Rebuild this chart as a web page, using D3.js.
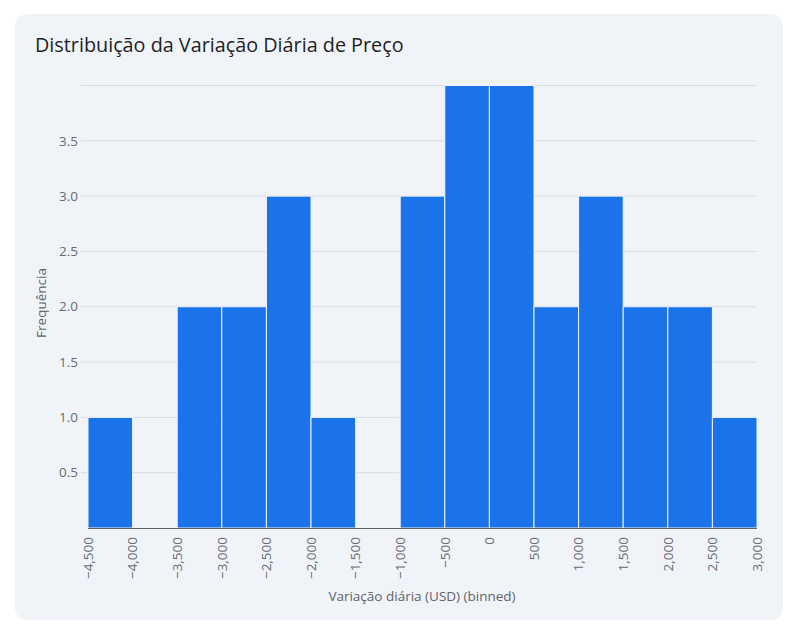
<!DOCTYPE html>
<html><head><meta charset="utf-8">
<script src="https://cdn.jsdelivr.net/npm/d3@7"></script>
<style>
html,body{margin:0;padding:0;background:#fff;}
svg{display:block;font-family:"Open Sans","Noto Sans",sans-serif;}
</style></head>
<body><svg id="c" width="795" height="626"></svg>
<script>
const binStarts = [-4500,-4000,-3500,-3000,-2500,-2000,-1500,-1000,-500,0,500,1000,1500,2000,2500];
const binWidth = 500;
const counts = [1,0,2,2,3,1,0,3,4,4,2,3,2,2,1];
const xTicks = [-4500,-4000,-3500,-3000,-2500,-2000,-1500,-1000,-500,0,500,1000,1500,2000,2500,3000];
const yGrid = [0.5,1,1.5,2,2.5,3,3.5,4];
const yLabels = [0.5,1,1.5,2,2.5,3,3.5];
const title = "Distribuição da Variação Diária de Preço";
const xTitle = "Variação diária (USD) (binned)";
const yTitle = "Frequência";

const svg = d3.select("#c");
svg.append("rect").attr("x",15).attr("y",14).attr("width",768).attr("height",606).attr("rx",12).attr("fill","#f0f4f9");
svg.append("text").attr("x",35).attr("y",52).attr("font-size",19.8).attr("fill","#1f1f1f").text(title);

const x = d3.scaleLinear().domain([-4500,3000]).range([88,757]);
const y = d3.scaleLinear().domain([0,4]).range([528,85.5]);

const g = svg.append("g");
g.selectAll("line.grid").data(yGrid).join("line").attr("class","grid")
 .attr("x1",81).attr("x2",757).attr("y1",d=>y(d)).attr("y2",d=>y(d))
 .attr("stroke","#dadce0").attr("stroke-width",1);
g.selectAll("text.yl").data(yLabels).join("text").attr("class","yl")
 .attr("x",78).attr("y",d=>y(d)).attr("dy","0.35em").attr("text-anchor","end")
 .attr("font-size",13.5).attr("fill","#686c72").text(d=>d.toFixed(1));

g.selectAll("rect.bar").data(binStarts.map((s,i)=>({s,c:counts[i]})).filter(d=>d.c>0)).join("rect").attr("class","bar")
 .attr("x",d=>x(d.s)).attr("width",d=>x(d.s+binWidth)-x(d.s))
 .attr("y",d=>y(d.c)).attr("height",d=>y(0)-y(d.c))
 .attr("fill","#1a73e8").attr("stroke","#f0f4f9").attr("stroke-width",1);

g.append("line").attr("x1",x(-4500)).attr("x2",x(3000)).attr("y1",y(0)+0.5).attr("y2",y(0)+0.5).attr("stroke","#5f6368").attr("stroke-width",1);

const fmt = d3.format(",");
g.selectAll("text.xl").data(xTicks).join("text").attr("class","xl")
 .attr("transform",d=>`translate(${x(d)},537) rotate(-90)`)
 .attr("dy","0.35em").attr("text-anchor","end")
 .attr("font-size",13.5).attr("fill","#686c72").text(d=>fmt(d).replace("-","\u2212"));

svg.append("text").attr("x",422).attr("y",601).attr("text-anchor","middle").attr("font-size",13.5).attr("fill","#5f6368").text(xTitle);
svg.append("text").attr("transform","translate(46,303) rotate(-90)").attr("text-anchor","middle").attr("font-size",13.5).attr("fill","#5f6368").text(yTitle);
</script></body></html>
